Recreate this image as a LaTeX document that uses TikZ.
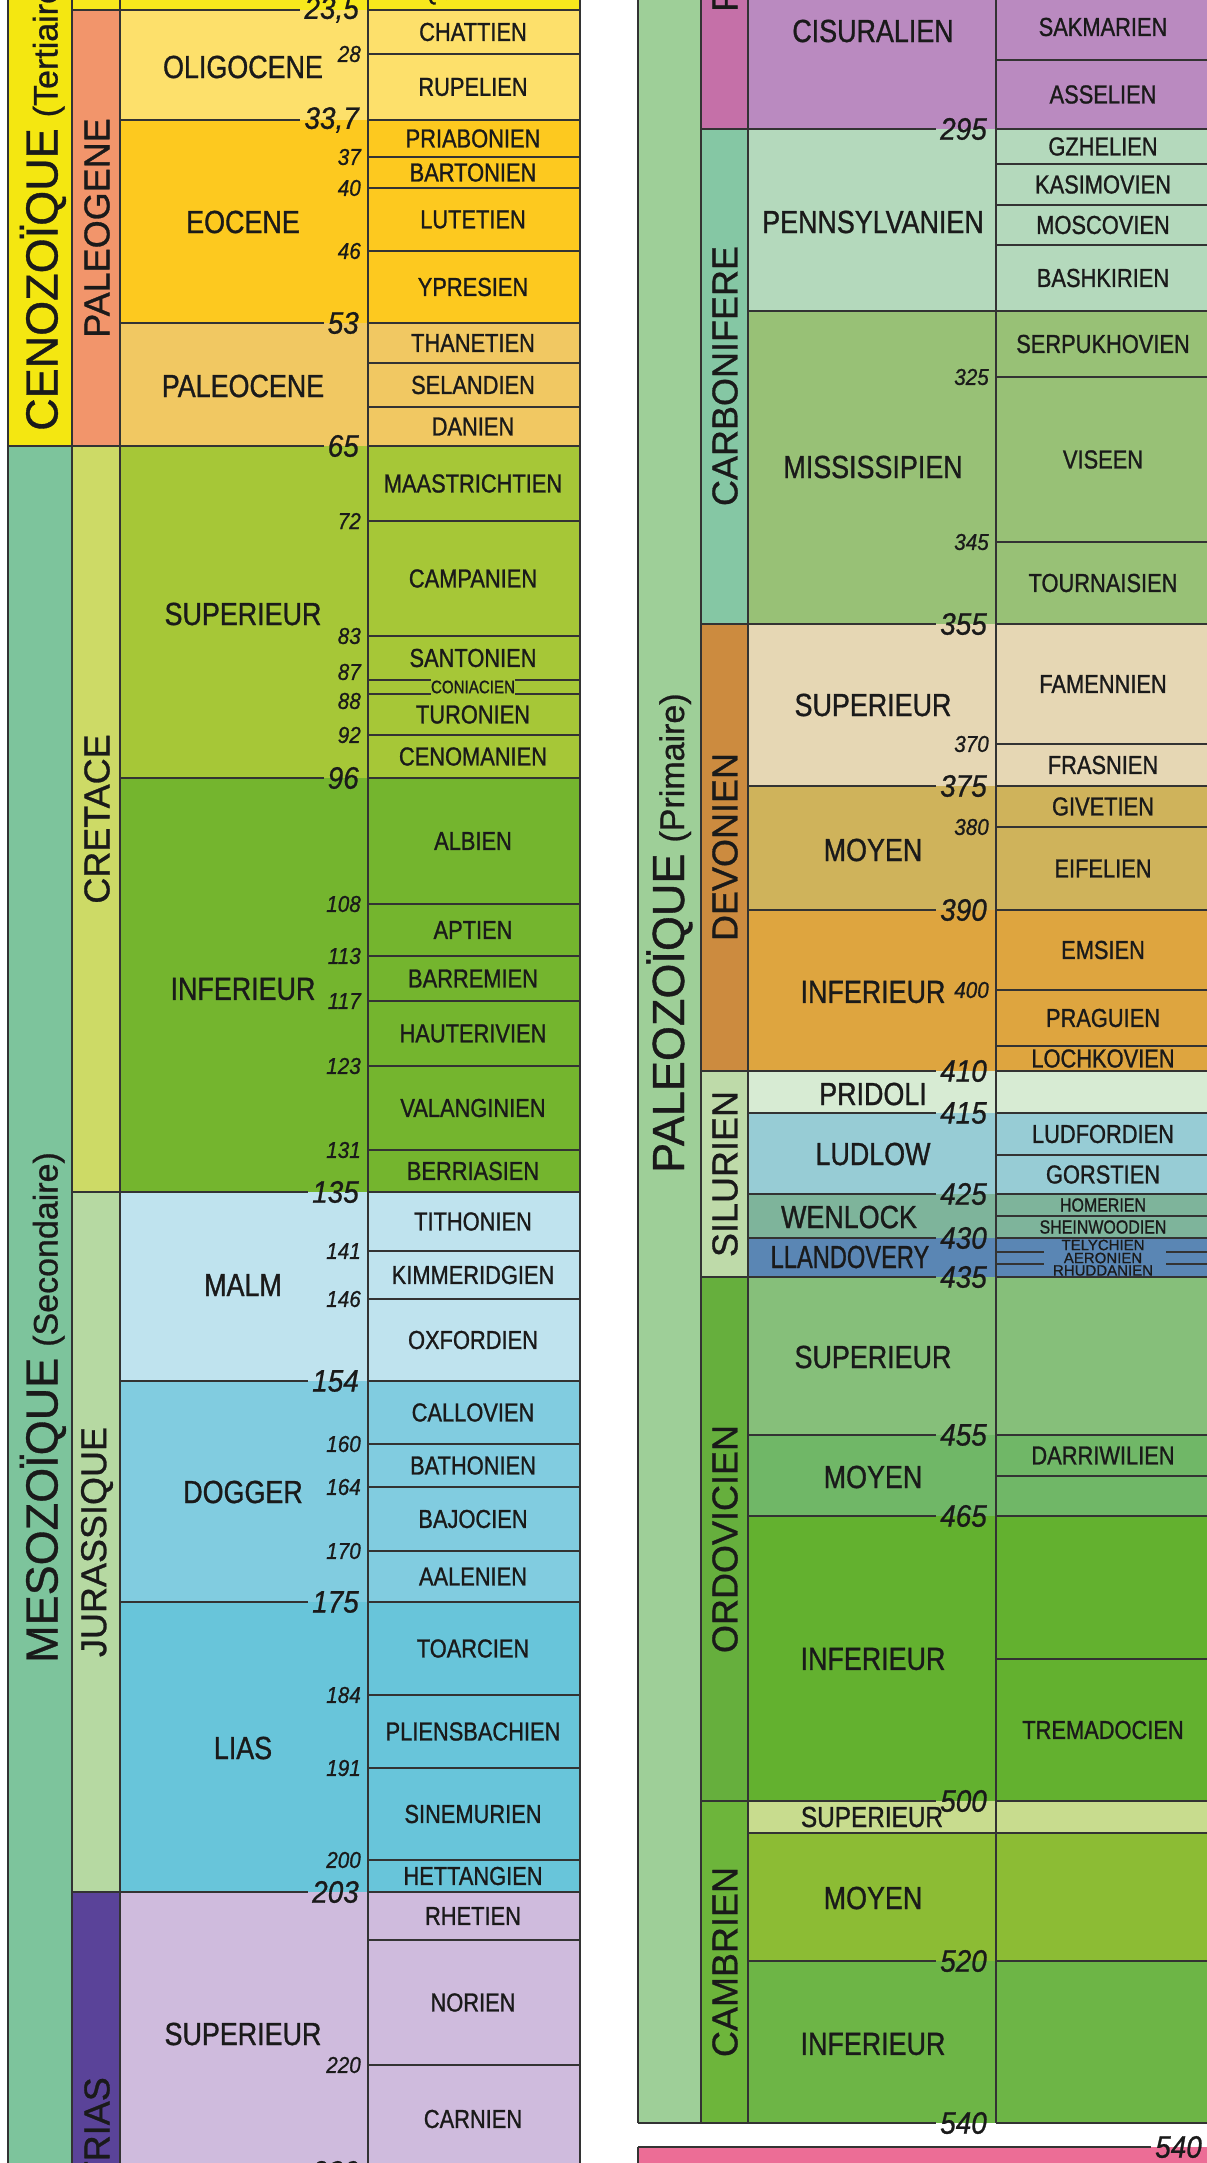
\documentclass[tikz,border=0pt]{standalone}
\usepackage{fontspec}
\setmainfont[FakeBold=0.8]{Liberation Sans}
\newfontfamily\nar[FakeStretch=0.84,FakeBold=1.0]{Liberation Sans}
\newfontfamily\numf[FakeStretch=0.9,FakeBold=0.8]{Liberation Sans Italic}
\newcounter{sn}
\definecolor{ink}{HTML}{1A1A1A}
\definecolor{linec}{HTML}{333333}
\definecolor{ceno}{HTML}{F4E711}
\definecolor{neog}{HTML}{F7E81C}
\definecolor{paleog}{HTML}{F2956B}
\definecolor{olig}{HTML}{FDE06B}
\definecolor{eoc}{HTML}{FDC91F}
\definecolor{paleoc}{HTML}{F1C862}
\definecolor{meso}{HTML}{7DC49C}
\definecolor{cret}{HTML}{CDDA66}
\definecolor{crsup}{HTML}{A6C737}
\definecolor{crinf}{HTML}{74B52E}
\definecolor{jura}{HTML}{B6D9A2}
\definecolor{malm}{HTML}{BFE3EE}
\definecolor{dogger}{HTML}{81CCE0}
\definecolor{lias}{HTML}{68C5DA}
\definecolor{trias}{HTML}{5A4399}
\definecolor{trsup}{HTML}{CFBBDD}
\definecolor{paleoz}{HTML}{9ECF98}
\definecolor{perm}{HTML}{C570A8}
\definecolor{cisu}{HTML}{BA8AC0}
\definecolor{carb}{HTML}{85C7A4}
\definecolor{penn}{HTML}{B4D9BC}
\definecolor{miss}{HTML}{98C176}
\definecolor{devo}{HTML}{CC8B3F}
\definecolor{dsup}{HTML}{E6D7B4}
\definecolor{dmoy}{HTML}{CFB35B}
\definecolor{dinf}{HTML}{DEA53F}
\definecolor{silu}{HTML}{BEDAA9}
\definecolor{prid}{HTML}{D7EBD3}
\definecolor{ludl}{HTML}{97CCD5}
\definecolor{wenl}{HTML}{7EB49B}
\definecolor{llan}{HTML}{5A86B4}
\definecolor{ordo}{HTML}{66AF3D}
\definecolor{osup}{HTML}{86BF7A}
\definecolor{omoy}{HTML}{70B767}
\definecolor{oinf}{HTML}{63B12F}
\definecolor{camb}{HTML}{6DB53B}
\definecolor{csup}{HTML}{C8DC8E}
\definecolor{cmoy}{HTML}{8CBC34}
\definecolor{cinf}{HTML}{6DB546}
\definecolor{prec}{HTML}{EC6D96}
\tikzset{
 ln/.style={draw=linec,line width=1.8pt},
 maj/.style={font=\numf\fontsize{31}{31}\selectfont,text=ink,inner sep=4pt},
 mnr/.style={font=\numf\fontsize{23}{23}\selectfont,text=ink,inner sep=2pt},
 epl/.style={font=\nar\fontsize{32}{32}\selectfont,text=ink,inner sep=0pt},
 stg/.style={font=\nar\fontsize{26}{26}\selectfont,text=ink,inner sep=0pt},
 smallstg/.style={font=\nar\fontsize{19}{19}\selectfont,text=ink,inner sep=0pt},
 tinystg/.style={font=\fontsize{15}{15}\selectfont,text=ink,inner sep=0pt},
 per/.style={font=\fontsize{36}{36}\selectfont,text=ink,inner sep=0pt,rotate=90},
 era/.style={text=ink,inner sep=0pt,rotate=90,anchor=base west},
}
\newcommand\MajB[4]{\node[maj,anchor=east] (#1) at (\LX,#2) {#3};
  \draw[ln] (#4,#2) -- (#1.west); \draw[ln] (\SX,#2) -- (\RX,#2);}
\newcommand\MinB[3]{\node[mnr,anchor=east] (#1) at (\LX,#2) {#3};
  \draw[ln] (\SX,#2) -- (\RX,#2);}
\newcommand\SL[1]{\draw[ln] (\SX,#1) -- (\RX,#1);}
\newcommand\StL[2]{\stepcounter{sn}\node[stg] (s\arabic{sn}) at (\CX,#1) {#2};}
\newcommand\EpL[3]{\node[epl] (#1) at (\EX,#2) {#3};}
\begin{document}
\begin{tikzpicture}[x=1pt,y=-1pt]
\useasboundingbox (0,0) rectangle (1207,2163);
\clip (0,0) rectangle (1207,2163);
% ================= LEFT PANEL =================
\fill[ceno] (8,-10) rectangle (72,446);
\fill[meso] (8,446) rectangle (72,2190);
\fill[neog] (72,-10) rectangle (580,10);
\fill[paleog] (72,10) rectangle (120,446);
\fill[cret] (72,446) rectangle (120,1192);
\fill[jura] (72,1192) rectangle (120,1892);
\fill[trias] (72,1892) rectangle (120,2190);
\fill[olig] (120,10) rectangle (580,120);
\fill[eoc] (120,120) rectangle (580,323);
\fill[paleoc] (120,323) rectangle (580,446);
\fill[crsup] (120,446) rectangle (580,778);
\fill[crinf] (120,778) rectangle (580,1192);
\fill[malm] (120,1192) rectangle (580,1381);
\fill[dogger] (120,1381) rectangle (580,1602);
\fill[lias] (120,1602) rectangle (580,1892);
\fill[trsup] (120,1892) rectangle (580,2190);
\foreach \x in {8,72,120,368,580} \draw[ln] (\x,-10) -- (\x,2190);
\def\LX{363}\def\SX{368}\def\RX{580}\def\CX{473}\def\EX{243}
\MajB{b235}{10}{23,5}{72}
\MajB{b337}{120}{33,7}{120}
\MajB{b53}{323}{53}{120}
\MajB{b65}{446}{65}{8}
\MajB{b96}{778}{96}{120}
\MajB{b135}{1192}{135}{72}
\MajB{b154}{1381}{154}{120}
\MajB{b175}{1602}{175}{120}
\MajB{b203}{1892}{203}{72}
\MajB{b230}{2172}{230}{120}
\MinB{m28}{54}{28}
\MinB{m37}{157}{37}
\MinB{m40}{188}{40}
\MinB{m46}{251}{46}
\MinB{m72}{521}{72}
\MinB{m83}{636}{83}
\MinB{m92}{735}{92}
\MinB{m108}{904}{108}
\MinB{m113}{956}{113}
\MinB{m117}{1001}{117}
\MinB{m123}{1066}{123}
\MinB{m131}{1150}{131}
\MinB{m141}{1251}{141}
\MinB{m146}{1299}{146}
\MinB{m160}{1444}{160}
\MinB{m164}{1487}{164}
\MinB{m170}{1551}{170}
\MinB{m184}{1695}{184}
\MinB{m191}{1768}{191}
\MinB{m200}{1860}{200}
\MinB{m220}{2065}{220}
\node[mnr,anchor=east] (m87) at (\LX,672) {87};
\node[mnr,anchor=east] (m88) at (\LX,701) {88};
\SL{363}\SL{407}\SL{1940}
\node[smallstg,font=\nar\fontsize{18}{18}\selectfont] (conia) at (\CX,687) {CONIACIEN};
\draw[ln] (368,680) -- (conia.west |- 0,680);
\draw[ln] (conia.east |- 0,680) -- (580,680);
\draw[ln] (368,694) -- (conia.west |- 0,694);
\draw[ln] (conia.east |- 0,694) -- (580,694);
% stage labels
\StL{-7}{AQUITANIEN}
\StL{32}{CHATTIEN}
\StL{87}{RUPELIEN}
\StL{138.5}{PRIABONIEN}
\StL{172.5}{BARTONIEN}
\StL{219.5}{LUTETIEN}
\StL{287}{YPRESIEN}
\StL{343}{THANETIEN}
\StL{385}{SELANDIEN}
\StL{426.5}{DANIEN}
\StL{483.5}{MAASTRICHTIEN}
\StL{578.5}{CAMPANIEN}
\StL{658}{SANTONIEN}
\StL{714.5}{TURONIEN}
\StL{756.5}{CENOMANIEN}
\StL{841}{ALBIEN}
\StL{930}{APTIEN}
\StL{978.5}{BARREMIEN}
\StL{1033.5}{HAUTERIVIEN}
\StL{1108}{VALANGINIEN}
\StL{1171}{BERRIASIEN}
\StL{1221.5}{TITHONIEN}
\StL{1275}{KIMMERIDGIEN}
\StL{1340}{OXFORDIEN}
\StL{1412.5}{CALLOVIEN}
\StL{1465.5}{BATHONIEN}
\StL{1519}{BAJOCIEN}
\StL{1576.5}{AALENIEN}
\StL{1648.5}{TOARCIEN}
\StL{1731.5}{PLIENSBACHIEN}
\StL{1814}{SINEMURIEN}
\StL{1876}{HETTANGIEN}
\StL{1916}{RHETIEN}
\StL{2002.5}{NORIEN}
\StL{2119}{CARNIEN}
% epoch labels
\EpL{e1}{67}{OLIGOCENE}
\EpL{e2}{222}{EOCENE}
\EpL{e3}{386}{PALEOCENE}
\EpL{e4}{614}{SUPERIEUR}
\EpL{e5}{989}{INFERIEUR}
\EpL{e6}{1285}{MALM}
\EpL{e7}{1492}{DOGGER}
\EpL{e8}{1748}{LIAS}
\EpL{e9}{2034}{SUPERIEUR}
% period labels
\node[per] (pPg) at (97,228) {PALEOGENE};
\node[per] (pK) at (97,819) {CRETACE};
\node[per] (pJ) at (97,1542) {JURASSIQUE};
\node[per,anchor=east] (pT) at (97,2077) {TRIAS};
% era labels
\node[era] (eCz) at (57.5,431) {{\fontsize{45}{45}\selectfont CENOZOÏQUE}\hspace{11pt}{\fontsize{34}{34}\selectfont(Tertiaire)}};
\node[era] (eMz) at (57.5,1663) {{\fontsize{45}{45}\selectfont MESOZOÏQUE}\hspace{11pt}{\fontsize{34}{34}\selectfont(Secondaire)}};
% ================= RIGHT PANEL =================
\fill[paleoz] (638,-10) rectangle (701,2123);
\fill[perm] (701,-10) rectangle (748,129);
\fill[carb] (701,129) rectangle (748,624);
\fill[devo] (701,624) rectangle (748,1071);
\fill[silu] (701,1071) rectangle (748,1277);
\fill[ordo] (701,1277) rectangle (748,1801);
\fill[camb] (701,1801) rectangle (748,2123);
\fill[cisu] (748,-10) rectangle (1215,129);
\fill[penn] (748,129) rectangle (1215,311);
\fill[miss] (748,311) rectangle (1215,624);
\fill[dsup] (748,624) rectangle (1215,786);
\fill[dmoy] (748,786) rectangle (1215,910);
\fill[dinf] (748,910) rectangle (1215,1071);
\fill[prid] (748,1071) rectangle (1215,1113);
\fill[ludl] (748,1113) rectangle (1215,1194);
\fill[wenl] (748,1194) rectangle (1215,1238);
\fill[llan] (748,1238) rectangle (1215,1277);
\fill[osup] (748,1277) rectangle (1215,1435);
\fill[omoy] (748,1435) rectangle (1215,1516);
\fill[oinf] (748,1516) rectangle (1215,1801);
\fill[csup] (748,1801) rectangle (1215,1833);
\fill[cmoy] (748,1833) rectangle (1215,1961);
\fill[cinf] (748,1961) rectangle (1215,2123);
\fill[prec] (638,2147) rectangle (1215,2190);
\foreach \x in {638,701,748,996} \draw[ln] (\x,-10) -- (\x,2123);
\draw[ln] (638,2147) -- (638,2190);
\def\LX{991}\def\SX{996}\def\RX{1215}\def\CX{1103}\def\EX{873}
\MajB{r295}{129}{295}{701}
\draw[ln] (748,311) -- (1215,311);
\MajB{r355}{624}{355}{701}
\MajB{r375}{786}{375}{748}
\MajB{r390}{910}{390}{748}
\MajB{r410}{1071}{410}{701}
\MajB{r415}{1113}{415}{748}
\MajB{r425}{1194}{425}{748}
\MajB{r430}{1238}{430}{748}
\MajB{r435}{1277}{435}{701}
\MajB{r455}{1435}{455}{748}
\MajB{r465}{1516}{465}{748}
\MajB{r500}{1801}{500}{701}
\draw[ln] (748,1833) -- (1215,1833);
\MajB{r520}{1961}{520}{748}
\MajB{r540}{2123}{540}{638}
\node[maj,anchor=east] (p540) at (1206,2147) {540};
\draw[ln] (638,2147) -- (p540.west);
\MinB{r325}{377}{325}
\MinB{r345}{542}{345}
\MinB{r370}{744}{370}
\MinB{r380}{827}{380}
\MinB{r400}{990}{400}
\SL{60}\SL{164}\SL{205}\SL{245}\SL{1046}\SL{1155}\SL{1216}\SL{1476}\SL{1659}
\draw[ln] (996,1252) -- (1044,1252); \draw[ln] (1166,1252) -- (1215,1252);
\draw[ln] (996,1264) -- (1044,1264); \draw[ln] (1166,1264) -- (1215,1264);
% stage labels
\StL{27}{SAKMARIEN}
\StL{94.5}{ASSELIEN}
\StL{146.5}{GZHELIEN}
\StL{184.5}{KASIMOVIEN}
\StL{225}{MOSCOVIEN}
\StL{278}{BASHKIRIEN}
\StL{344}{SERPUKHOVIEN}
\StL{459.5}{VISEEN}
\StL{583}{TOURNAISIEN}
\StL{684}{FAMENNIEN}
\StL{765}{FRASNIEN}
\StL{806.5}{GIVETIEN}
\StL{868.5}{EIFELIEN}
\StL{950}{EMSIEN}
\StL{1018}{PRAGUIEN}
\StL{1058.5}{LOCHKOVIEN}
\StL{1134}{LUDFORDIEN}
\StL{1174.5}{GORSTIEN}
\node[smallstg] (sHom) at (\CX,1205) {HOMERIEN};
\node[smallstg] (sShe) at (\CX,1227) {SHEINWOODIEN};
\node[tinystg] (sTel) at (\CX,1245) {TELYCHIEN};
\node[tinystg] (sAer) at (\CX,1258) {AERONIEN};
\node[tinystg] (sRhu) at (\CX,1270.5) {RHUDDANIEN};
\StL{1455.5}{DARRIWILIEN}
\StL{1730}{TREMADOCIEN}
% epoch labels
\EpL{f1}{31}{CISURALIEN}
\EpL{f2}{222}{PENNSYLVANIEN}
\EpL{f3}{467}{MISSISSIPIEN}
\EpL{f4}{705}{SUPERIEUR}
\EpL{f5}{850}{MOYEN}
\EpL{f6}{992}{INFERIEUR}
\EpL{f7}{1094}{PRIDOLI}
\EpL{f8}{1154}{LUDLOW}
\node[epl] (f9) at (849,1217) {WENLOCK};
\node[epl,xscale=0.88] (f10) at (850,1257) {LLANDOVERY};
\EpL{f11}{1357}{SUPERIEUR}
\EpL{f12}{1477}{MOYEN}
\EpL{f13}{1659}{INFERIEUR}
\node[epl,font=\nar\fontsize{29}{29}\selectfont] (f14) at (872,1817) {SUPERIEUR};
\EpL{f15}{1898}{MOYEN}
\EpL{f16}{2044}{INFERIEUR}
% period labels
\node[per,anchor=west] (qP) at (725,12) {PERMIEN};
\node[per] (qC) at (725,376) {CARBONIFERE};
\node[per] (qD) at (725,847) {DEVONIEN};
\node[per] (qS) at (725,1174) {SILURIEN};
\node[per] (qO) at (725,1539) {ORDOVICIEN};
\node[per] (qCm) at (725,1962) {CAMBRIEN};
% era label
\node[era] (ePz) at (684,1173) {{\fontsize{45}{45}\selectfont PALEOZOÏQUE}\hspace{11pt}{\fontsize{34}{34}\selectfont(Primaire)}};
\end{tikzpicture}
\end{document}
